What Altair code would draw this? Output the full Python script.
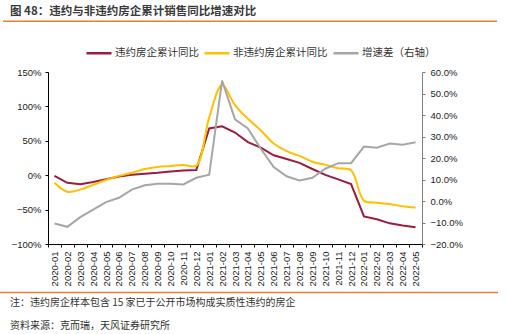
import altair as alt
import pandas as pd

months = ["2020-01", "2020-02", "2020-03", "2020-04", "2020-05", "2020-06",
          "2020-07", "2020-08", "2020-09", "2020-10", "2020-11", "2020-12",
          "2021-01", "2021-02", "2021-03", "2021-04", "2021-05", "2021-06",
          "2021-07", "2021-08", "2021-09", "2021-10", "2021-11", "2021-12",
          "2022-01", "2022-02", "2022-03", "2022-04", "2022-05"]

# values in percent
default_yoy = [-1, -11, -13, -10, -6, -2, 0.5, 2, 3.5, 5.5, 7, 7.5,
               68, 71, 62, 48, 40, 29, 23.5, 18, 9, 0.5, -6, -13,
               -60, -64, -70, -73, -75.5]
nondefault_yoy = [-11, -24, -21, -14, -7, -1, 3.5, 9, 12, 13.5, 15, 14,
                  84, 131, 102, 82, 65, 46, 35, 28, 19.5, 15, 10, 7,
                  -37, -40, -42, -45, -47]
spread = [-10.5, -12, -7.5, -4, -0.5, 1.5, 5.3, 7.3, 8, 8, 7.7, 10.8,
          12.2, 56, 38, 33.7, 24.3, 15.8, 11.5, 9.6, 10.8, 15, 17.6, 17.6,
          25.3, 24.8, 26.7, 26.2, 27.3]

series_names = ["违约房企累计同比", "非违约房企累计同比", "增速差（右轴）"]
series_colors = ["#9B1C3C", "#FFC000", "#A6A6A6"]

title_text = "图 48：违约与非违约房企累计销售同比增速对比"
note_text = "注：违约房企样本包含 15 家已于公开市场构成实质性违约的房企"
source_text = "资料来源：克而瑞，天风证券研究所"

left_ticks = [-1.0, -0.5, 0.0, 0.5, 1.0, 1.5]
right_ticks = [-0.2, -0.1, 0.0, 0.1, 0.2, 0.3, 0.4, 0.5, 0.6]

def frame(name, vals):
    return pd.DataFrame({"month": months, "series": name, "value": [v / 100 for v in vals]})

df_def = frame(series_names[0], default_yoy)
df_non = frame(series_names[1], nondefault_yoy)
df_spr = frame(series_names[2], spread)

x_enc = alt.X("month:O", sort=months,
              scale=alt.Scale(type="band", domain=months, paddingInner=0, paddingOuter=0),
              axis=alt.Axis(title=None, labelAngle=270, tickBand="extent",
                            domainColor="#000000", tickColor="#000000", tickSize=3,
                            labelPadding=4))

color_enc = alt.Color("series:N",
                      scale=alt.Scale(domain=series_names, range=series_colors),
                      legend=alt.Legend(title=None, orient="none", legendX=37, legendY=-33,
                                        direction="horizontal", symbolType="stroke",
                                        symbolSize=625, symbolStrokeWidth=2.5,
                                        labelFont="Noto Sans CJK SC", labelFontSize=10.5,
                                        labelColor="#333333", labelOffset=2,
                                        columnPadding=0, padding=0))

y_left = alt.Y("value:Q",
               scale=alt.Scale(domain=[-1.0, 1.5], nice=False, zero=False),
               axis=alt.Axis(title=None, orient="left", values=left_ticks, format=".0%",
                             grid=False, domainColor="#000000", tickColor="#000000",
                             tickSize=3, labelPadding=4))
y_right = alt.Y("value:Q",
                scale=alt.Scale(domain=[-0.2, 0.6], nice=False, zero=False),
                axis=alt.Axis(title=None, orient="right", values=right_ticks, format=".1%",
                              grid=False, domainColor="#808080", tickColor="#808080",
                              tickSize=3, labelPadding=5))

line_def = alt.Chart(df_def).mark_line(strokeWidth=2).encode(x=x_enc, y=y_left, color=color_enc)
line_non = alt.Chart(df_non).mark_line(strokeWidth=2, interpolate="catmull-rom").encode(
    x=x_enc, y=y_left, color=color_enc)
line_spr = alt.Chart(df_spr).mark_line(strokeWidth=2).encode(x=x_enc, y=y_right, color=color_enc)

main = alt.layer(alt.layer(line_def, line_non), line_spr).resolve_scale(y="independent")

def txt(t, xv, yv, size, weight="normal", color="#333333"):
    return alt.Chart(pd.DataFrame({"t": [t]})).mark_text(
        align="left", baseline="middle", font="Noto Sans CJK SC", fontSize=size,
        fontWeight=weight, color=color).encode(text="t:N", x=alt.value(xv), y=alt.value(yv))

def hrule(x1, x2, yv):
    return alt.Chart(pd.DataFrame({"a": [0]})).mark_rule(color="#ED7D31", strokeWidth=1.5).encode(
        x=alt.value(x1), x2=alt.value(x2), y=alt.value(yv))

chart = alt.layer(
    main,
    txt(title_text, -38, -60, 11.5, "bold", "#3A3A3A"),
    hrule(-45, 449, -50.7),
    hrule(-48, 450, 220.5),
    txt(note_text, -38, 231, 10),
    txt(source_text, -38, 254, 10),
).properties(
    width=374, height=172,
    autosize=alt.AutoSizeParams(type="none"),
    padding={"left": 48, "top": 72, "right": 85, "bottom": 90},
).configure_view(stroke=None).configure_axis(
    labelFont="Liberation Sans", labelFontSize=9.5, labelColor="#222222"
)

chart.save("out.html", embed_options={"renderer": "svg", "actions": False})
